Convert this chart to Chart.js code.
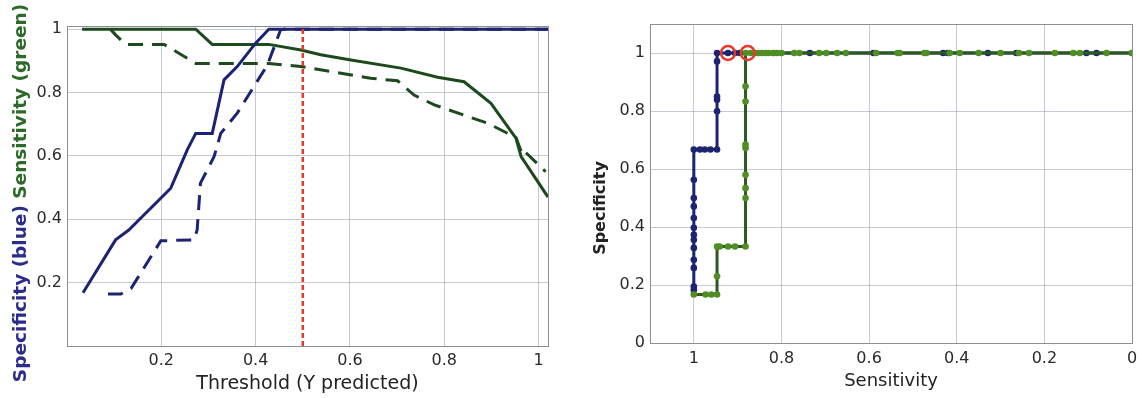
<!DOCTYPE html>
<html>
<head>
<meta charset="utf-8">
<script src="https://cdn.jsdelivr.net/npm/chart.js@4.4.0/dist/chart.umd.min.js"></script>
<style>
  body { margin: 0; background: #fff; width: 1142px; height: 398px; position: relative; overflow: hidden; }
  .panel { position: absolute; top: 0; height: 398px; }
  #leftPanel { left: 0; width: 575px; }
  #rightPanel { left: 580px; width: 562px; }
</style>
</head>
<body>
<div class="panel" id="leftPanel"><canvas id="thrChart"></canvas></div>
<div class="panel" id="rightPanel"><canvas id="rocChart"></canvas></div>
<script>
// --- left panel: specificity / sensitivity vs threshold ---
const specSolidX = [0.034, 0.103, 0.131, 0.22, 0.255, 0.273, 0.308, 0.333, 0.361, 0.40, 0.428, 1.02];
const specSolidY = [0.168, 0.335, 0.366, 0.498, 0.619, 0.671, 0.671, 0.84, 0.882, 0.956, 1.0, 1.0];
const specDashX = [0.087, 0.114, 0.136, 0.199, 0.269, 0.276, 0.283, 0.312, 0.326, 0.361, 0.425, 0.453, 0.46, 1.02];
const specDashY = [0.164, 0.164, 0.182, 0.332, 0.335, 0.366, 0.514, 0.598, 0.671, 0.735, 0.887, 0.998, 1.0, 1.0];
const sensSolidX = [0.032, 0.273, 0.308, 0.428, 0.496, 0.538, 0.602, 0.708, 0.786, 0.842, 0.899, 0.952, 0.963, 1.02];
const sensSolidY = [1.0, 1.0, 0.952, 0.952, 0.934, 0.919, 0.903, 0.877, 0.848, 0.834, 0.766, 0.656, 0.598, 0.47];
const sensDashX = [0.092, 0.103, 0.124, 0.206, 0.273, 0.428, 0.496, 0.644, 0.701, 0.736, 0.779, 0.892, 0.952, 0.966, 0.972, 1.015];
const sensDashY = [1.0, 0.982, 0.952, 0.952, 0.892, 0.892, 0.882, 0.845, 0.837, 0.792, 0.761, 0.703, 0.658, 0.603, 0.612, 0.55];
const cutoff = 0.5;
const thrTicks = [0.2, 0.4, 0.6, 0.8, 1];

// --- right panel: ROC (specificity vs sensitivity) ---
const blueSens = [1, 1, 1, 1, 1, 1, 1, 1, 1, 1, 1, 1, 1, 0.986, 0.975, 0.962, 0.947, 0.947, 0.947, 0.947, 0.947, 0.947,
  0.922, 0.906, 0.895, 0.735, 0.59, 0.431, 0.42, 0.329, 0.264, 0.104, 0.081, 0];
const blueSpec = [0.183, 0.195, 0.259, 0.287, 0.328, 0.356, 0.373, 0.397, 0.431, 0.471, 0.5, 0.563, 0.667, 0.667, 0.667, 0.667, 0.667, 0.799, 0.839, 0.85, 0.971, 1,
  1, 1, 1, 1, 1, 1, 1, 1, 1, 1, 1, 1];
const greenSens = [1, 0.973, 0.96, 0.947, 0.947, 0.947, 0.941, 0.922, 0.906, 0.882, 0.882, 0.882, 0.882, 0.882, 0.882, 0.882, 0.882, 0.882,
  0.87, 0.86, 0.853, 0.845, 0.836, 0.83, 0.82, 0.816, 0.81, 0.8, 0.771, 0.759, 0.714, 0.698, 0.673, 0.653, 0.584, 0.535, 0.53,
  0.474, 0.469, 0.416, 0.393, 0.35, 0.3, 0.258, 0.235, 0.176, 0.134, 0.119, 0.058, 0];
const greenSpec = [0.167, 0.167, 0.167, 0.167, 0.23, 0.333, 0.333, 0.333, 0.333, 0.333, 0.5, 0.534, 0.58, 0.672, 0.684, 0.833, 0.885, 1,
  1, 1, 1, 1, 1, 1, 1, 1, 1, 1, 1, 1, 1, 1, 1, 1, 1, 1, 1,
  1, 1, 1, 1, 1, 1, 1, 1, 1, 1, 1, 1, 1];
const optSens = [0.922, 0.877];
const optSpec = [1, 1];
const rocTicks = [0, 0.2, 0.4, 0.6, 0.8, 1];

const navy = '#1c2372';
const darkGreen = '#1d4a1d';
const rocGreen = '#2b5a1e';
const dotGreen = '#4f8d25';
const gridColor = 'rgba(150,158,175,0.55)';
const tickColor = '#2a2a2a';

Chart.defaults.font.family = "'DejaVu Sans', sans-serif";

const pts = (xs, ys) => xs.map((x, i) => ({ x: x, y: ys[i] }));
const fmt = v => String(Math.round(v * 10) / 10);

// axes box like MATLAB
const boxPlugin = {
  id: 'box',
  beforeDatasetsDraw(chart) {
    const { ctx, chartArea: a } = chart;
    ctx.save();
    ctx.strokeStyle = '#8a8f96';
    ctx.lineWidth = 1;
    ctx.strokeRect(a.left + 0.5, a.top + 0.5, a.right - a.left, a.bottom - a.top);
    ctx.restore();
  }
};

// rotated y title made of coloured parts
const sideTitle = {
  id: 'sideTitle',
  afterDraw(chart, args, opts) {
    const ctx = chart.ctx;
    ctx.save();
    ctx.font = opts.font;
    const widths = opts.parts.map(p => ctx.measureText(p.text).width);
    const total = widths.reduce((a, b) => a + b, 0);
    ctx.translate(opts.x, chart.height / 2 + opts.shift);
    ctx.rotate(-Math.PI / 2);
    ctx.textBaseline = 'middle';
    ctx.textAlign = 'left';
    let pos = -total / 2;
    opts.parts.forEach((p, i) => {
      ctx.fillStyle = p.color;
      ctx.fillText(p.text, pos, 0);
      pos += widths[i];
    });
    ctx.restore();
  }
};

// red dashed cutoff line
const cutoffLine = {
  id: 'cutoffLine',
  afterDatasetsDraw(chart) {
    const { ctx, chartArea: a, scales } = chart;
    const px = scales.x.getPixelForValue(cutoff);
    ctx.save();
    ctx.strokeStyle = '#e5392a';
    ctx.lineWidth = 2.5;
    ctx.setLineDash([5, 3]);
    ctx.beginPath();
    ctx.moveTo(px, a.bottom);
    ctx.lineTo(px, a.top);
    ctx.stroke();
    ctx.restore();
  }
};

const lineDs = (data, color, dashed) => ({
  data: data,
  borderColor: color,
  borderWidth: 3,
  borderDash: dashed ? [15, 9] : [],
  pointRadius: 0,
  tension: 0,
  fill: false
});

new Chart(document.getElementById('thrChart'), {
  type: 'line',
  data: {
    datasets: [
      lineDs(pts(specSolidX, specSolidY), navy, false),
      lineDs(pts(specDashX, specDashY), navy, true),
      lineDs(pts(sensSolidX, sensSolidY), darkGreen, false),
      lineDs(pts(sensDashX, sensDashY), darkGreen, true)
    ]
  },
  options: {
    responsive: true,
    maintainAspectRatio: false,
    animation: false,
    layout: { padding: { left: 0, right: 27, top: 26, bottom: 0 } },
    plugins: {
      legend: { display: false },
      tooltip: { enabled: false },
      sideTitle: {
        font: "bold 18.5px 'DejaVu Sans'",
        x: 21,
        shift: -6,
        parts: [
          { text: 'Specificity (blue) ', color: '#2c2c8c' },
          { text: 'Sensitivity (green)', color: '#2d6a2a' }
        ]
      }
    },
    scales: {
      x: {
        type: 'linear',
        min: 0,
        max: 1.02,
        afterBuildTicks: s => { s.ticks = thrTicks.map(v => ({ value: v })); },
        afterFit: s => { s.height = 52; },
        border: { display: false },
        grid: { color: gridColor, lineWidth: 1, drawTicks: false },
        ticks: { color: tickColor, font: { size: 16 }, padding: 5, maxRotation: 0, callback: fmt },
        title: {
          display: true,
          text: 'Threshold (Y predicted)',
          color: '#222',
          font: { size: 19 },
          padding: { top: 0, bottom: 3 }
        }
      },
      y: {
        type: 'linear',
        min: 0,
        max: 1.01,
        afterBuildTicks: s => { s.ticks = thrTicks.map(v => ({ value: v })); },
        afterFit: s => { s.width = 67; },
        border: { display: false },
        grid: { color: gridColor, lineWidth: 1, drawTicks: false },
        ticks: { color: tickColor, font: { size: 16 }, padding: 5, callback: fmt }
      }
    }
  },
  plugins: [boxPlugin, sideTitle, cutoffLine]
});

new Chart(document.getElementById('rocChart'), {
  type: 'line',
  data: {
    datasets: [
      {
        data: pts(optSens, optSpec),
        showLine: false,
        pointRadius: 7,
        pointBorderWidth: 2.5,
        pointBorderColor: '#e5392a',
        pointBackgroundColor: 'rgba(0,0,0,0)'
      },
      {
        data: pts(greenSens, greenSpec),
        borderColor: rocGreen,
        borderWidth: 3,
        pointRadius: 3.3,
        pointBorderWidth: 0,
        pointBackgroundColor: dotGreen,
        tension: 0
      },
      {
        data: pts(blueSens, blueSpec),
        borderColor: navy,
        borderWidth: 3,
        pointRadius: 3.3,
        pointBorderWidth: 0,
        pointBackgroundColor: navy,
        tension: 0
      }
    ]
  },
  options: {
    responsive: true,
    maintainAspectRatio: false,
    animation: false,
    layout: { padding: { left: 0, right: 10, top: 24, bottom: 0 } },
    plugins: {
      legend: { display: false },
      tooltip: { enabled: false },
      sideTitle: {
        font: "bold 16px 'DejaVu Sans'",
        x: 21,
        shift: 9,
        parts: [{ text: 'Specificity', color: '#222' }]
      }
    },
    scales: {
      x: {
        type: 'linear',
        reverse: true,
        min: 0,
        max: 1.1,
        afterBuildTicks: s => { s.ticks = rocTicks.map(v => ({ value: v })); },
        afterFit: s => { s.height = 55; },
        border: { display: false },
        grid: { color: gridColor, lineWidth: 1, drawTicks: false },
        ticks: { color: tickColor, font: { size: 16 }, padding: 6, maxRotation: 0, callback: fmt },
        title: {
          display: true,
          text: 'Sensitivity',
          color: '#222',
          font: { size: 18 },
          padding: { top: 0, bottom: 6 }
        }
      },
      y: {
        type: 'linear',
        min: 0,
        max: 1.1,
        afterBuildTicks: s => { s.ticks = rocTicks.map(v => ({ value: v })); },
        afterFit: s => { s.width = 70; },
        border: { display: false },
        grid: { color: gridColor, lineWidth: 1, drawTicks: false },
        ticks: { color: tickColor, font: { size: 16 }, padding: 5, callback: fmt }
      }
    }
  },
  plugins: [boxPlugin, sideTitle]
});
</script>
</body>
</html>
